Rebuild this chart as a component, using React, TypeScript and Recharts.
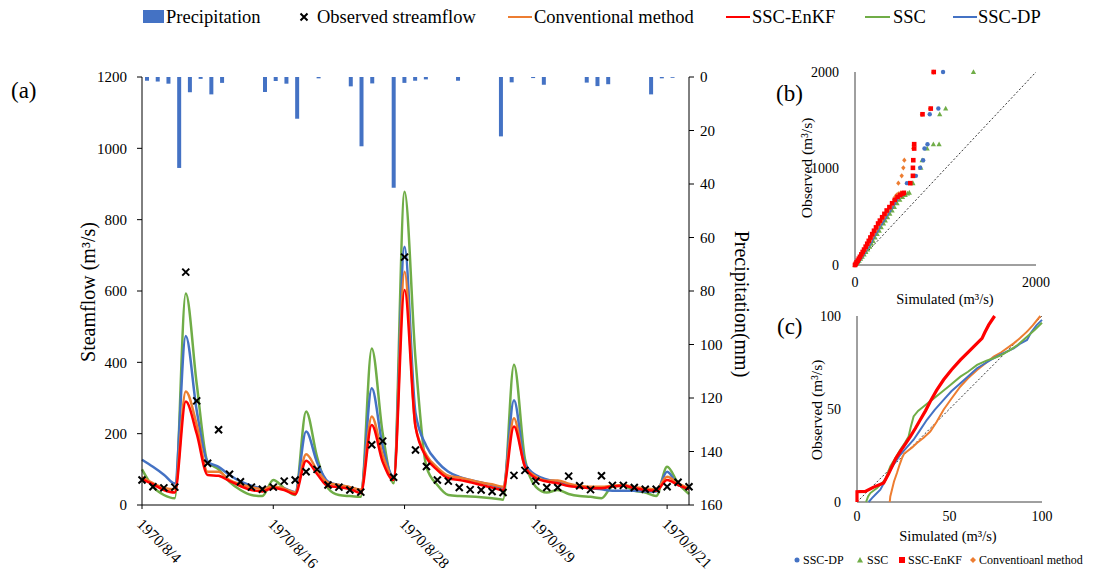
import React from 'react'
import { ComposedChart, Bar, Line, XAxis, YAxis, ScatterChart, Scatter, ReferenceLine } from 'recharts'

const FONT = "'Times New Roman', 'Liberation Serif', serif"

const BLUE = '#4472C4'
const ORANGE = '#ED7D31'
const RED = '#FF0000'
const GREEN = '#70AD47'

// daily axis, 1970/8/4 .. 1970/9/23
const dates = [
  '1970/8/4', '1970/8/5', '1970/8/6', '1970/8/7', '1970/8/8', '1970/8/9', '1970/8/10', '1970/8/11',
  '1970/8/12', '1970/8/13', '1970/8/14', '1970/8/15', '1970/8/16', '1970/8/17', '1970/8/18', '1970/8/19',
  '1970/8/20', '1970/8/21', '1970/8/22', '1970/8/23', '1970/8/24', '1970/8/25', '1970/8/26', '1970/8/27',
  '1970/8/28', '1970/8/29', '1970/8/30', '1970/8/31', '1970/9/1', '1970/9/2', '1970/9/3', '1970/9/4',
  '1970/9/5', '1970/9/6', '1970/9/7', '1970/9/8', '1970/9/9', '1970/9/10', '1970/9/11', '1970/9/12',
  '1970/9/13', '1970/9/14', '1970/9/15', '1970/9/16', '1970/9/17', '1970/9/18', '1970/9/19', '1970/9/20',
  '1970/9/21', '1970/9/22', '1970/9/23',
]
const dateTicks = [0, 12, 24, 36, 48]

const precipitation = [
  1.4, 1.7, 2.5, 34, 5.7, 0.7, 6.5, 2.2, 0, 0, 0, 5.6, 1.5, 2.5, 15.6, 0, 0.5, 0, 0, 3.5,
  25.9, 2.4, 0, 41.4, 2.2, 1.4, 0.9, 0, 0, 1.4, 0, 0, 0, 22.2, 2.0, 0, 0.4, 2.9, 0, 0,
  0, 2.1, 3.4, 2.7, 0, 0, 0, 6.5, 0.5, 0.3, 0,
]
const observed = [
  70, 51, 48, 50, 653, 292, 117, 211, 86, 65, 50, 44, 50, 67, 70, 93, 100, 56, 50, 42,
  36, 169, 179, 78, 695, 154, 108, 70, 67, 49, 43, 42, 38, 35, 83, 97, 67, 49, 49, 81,
  54, 43, 82, 55, 55, 49, 44, 44, 51, 64, 51,
]
const conventional = [
  78, 61, 48, 44, 318, 225, 93, 93, 70, 58, 50, 45, 52, 46, 35, 142, 98, 63, 56, 50,
  43, 248, 140, 75, 654, 220, 140, 105, 82, 77, 70, 63, 58, 51, 243, 108, 80, 68, 69, 60,
  54, 51, 51, 54, 56, 50, 47, 44, 79, 61, 47,
]
const sscEnkf = [
  72, 58, 42, 35, 290, 200, 84, 82, 67, 53, 42, 38, 48, 42, 30, 124, 87, 53, 50, 45,
  33, 224, 121, 70, 603, 219, 133, 98, 75, 70, 64, 56, 49, 42, 220, 108, 75, 66, 61, 53,
  50, 47, 47, 52, 54, 47, 42, 40, 70, 56, 44,
]
const ssc = [
  100, 51, 28, 19, 593, 340, 121, 100, 65, 42, 28, 25, 70, 47, 28, 262, 135, 47, 28, 25,
  23, 439, 201, 61, 878, 410, 107, 56, 28, 25, 24, 22, 19, 15, 393, 130, 51, 35, 42, 31,
  25, 23, 19, 52, 54, 40, 35, 25, 107, 61, 31,
]
const sscDp = [
  127, 107, 85, 60, 474, 265, 121, 107, 84, 66, 54, 47, 50, 46, 36, 206, 120, 66, 56, 50,
  42, 327, 164, 79, 724, 258, 165, 121, 93, 79, 70, 63, 56, 49, 294, 117, 84, 72, 65, 56,
  51, 47, 44, 40, 40, 40, 38, 38, 93, 56, 47,
]

// (b) quantile pairs [simulated, observed], m3/s
const qqDp = [
  [0, 0], [12, 12], [25, 28], [38, 45], [52, 65], [68, 85], [85, 110], [102, 135], [120, 160], [140, 190],
  [158, 220], [177, 250], [196, 285], [218, 320], [240, 355], [262, 390], [288, 430], [308, 460], [332, 495],
  [356, 530], [380, 565], [405, 600], [430, 640], [455, 675], [480, 705], [505, 725], [530, 740],
  [574, 848], [673, 924], [720, 1007], [753, 1086], [768, 1207], [801, 1252], [826, 1562], [921, 1621], [973, 2000],
]
const qqSsc = [
  [0, 0], [15, 12], [30, 28], [45, 45], [62, 65], [80, 85], [100, 110], [120, 135], [140, 160], [162, 190],
  [182, 220], [200, 250], [222, 285], [245, 320], [268, 355], [290, 390], [315, 430], [335, 460], [360, 495],
  [385, 530], [410, 565], [435, 600], [465, 640], [495, 675], [525, 705], [555, 725], [580, 740], [600, 750],
  [640, 848], [728, 1007], [742, 1086], [797, 1207], [866, 1252], [929, 1252], [936, 1562], [1002, 1621], [1309, 2000],
]
const qqEnkf = [
  [0, 0], [8, 12], [18, 28], [30, 45], [42, 65], [55, 85], [70, 110], [85, 135], [100, 160], [118, 190],
  [135, 220], [152, 250], [170, 285], [190, 320], [210, 355], [232, 390], [255, 430], [275, 460], [300, 495],
  [325, 530], [350, 565], [380, 600], [410, 640], [440, 675], [470, 705], [500, 725], [525, 740], [540, 748],
  [611, 848], [640, 924], [640, 1007], [644, 1086], [654, 1207], [654, 1252], [746, 1562], [837, 1621], [870, 2000],
]
const qqConv = [
  [0, 0], [10, 12], [22, 28], [35, 45], [48, 65], [62, 85], [78, 110], [95, 135], [112, 160], [130, 190],
  [148, 220], [166, 250], [185, 285], [205, 320], [226, 355], [248, 390], [272, 430], [292, 460], [318, 495],
  [342, 530], [366, 565], [392, 600], [415, 640], [432, 675], [445, 705], [460, 725], [480, 738], [505, 748],
  [479, 848], [516, 924], [534, 1007], [545, 1086], [644, 1207], [650, 1240], [740, 1560], [830, 1618], [866, 1998],
]

// (c) low-flow quantile curves [simulated, observed]
const lowDp = [
  [6.3, 0], [8.1, 2.1], [10, 4], [12.6, 6.6], [15, 11], [17.1, 15.6], [20, 20.5], [23.4, 25.4], [27, 29.5],
  [30.6, 33.5], [34, 38.5], [37.8, 44.2], [42, 49.5], [46.8, 54.9], [51, 59.5], [55.9, 63.9], [60, 67.5],
  [64.9, 71.9], [70, 75], [73.9, 77.3], [78, 79.5], [84.7, 82.6], [88, 85], [91.9, 87.1], [94, 91], [97, 95], [100, 97.9],
]
const lowSsc = [
  [4.9, 0], [6, 3], [7.2, 4.8], [10.8, 7.5], [15.3, 12], [18, 19.1], [21, 24], [23.4, 28.1], [26, 32],
  [27.9, 35.2], [29, 40], [30.6, 46], [33, 49], [36, 51.3], [40, 54.5], [45, 58.5], [50, 62.5], [55.9, 67.4],
  [60, 70], [64.9, 73.7], [70, 76], [73.9, 77.3], [78, 79], [82.9, 81.8], [87, 84.5], [91.9, 88.9], [96, 92.5], [100, 96.4],
]
const lowEnkf = [
  [0, 0], [0, 5.5], [4.5, 5.7], [9, 8], [14.4, 10.2], [17, 15], [18.9, 19.1], [21, 23.5], [23.4, 27.2],
  [26, 31], [28.8, 35.2], [31.5, 39.5], [34.2, 44.2], [37, 49], [39.6, 54], [43, 60], [46.8, 65.7], [51, 71],
  [55.9, 76.4], [60, 80.5], [63.1, 83.5], [67.6, 88], [69, 91], [71.2, 95.2], [74.4, 100],
]
const lowConv = [
  [17.7, 0], [18, 3], [18.9, 6.6], [20, 11], [21.6, 15.6], [23, 20], [24.3, 23.6], [25.5, 26], [27, 27.2],
  [30, 29.5], [32.4, 31.7], [36, 34.5], [39.6, 37.9], [43, 43], [46.8, 49.6], [51, 55.5], [55.9, 62.1], [60, 66.5],
  [64.9, 71], [70, 75], [73.9, 78.2], [78, 80.5], [84.7, 85.3], [88, 88], [91.9, 91.6], [95, 95], [99.1, 100],
]

const rows = dates.map((date, i) => ({
  i,
  date,
  precip: precipitation[i],
  obs: observed[i],
  conv: conventional[i],
  enkf: sscEnkf[i],
  ssc: ssc[i],
  dp: sscDp[i],
}))

const toXY = (pts: number[][]) => pts.map(([x, y]) => ({ x, y }))

const tickStyle = { fill: '#000', fontSize: 15, fontFamily: FONT }
const smallTick = { fill: '#000', fontSize: 14, fontFamily: FONT }

function Cross(p: any) {
  const { cx, cy } = p
  if (cx == null || cy == null) return <g />
  const s = 3.5
  return (
    <path
      d={`M${cx - s},${cy - s}L${cx + s},${cy + s}M${cx + s},${cy - s}L${cx - s},${cy + s}`}
      stroke="#000"
      strokeWidth={2}
    />
  )
}

function DateTick(p: any) {
  const { x, y, payload } = p
  return (
    <text
      transform={`translate(${x + 2},${y + 6}) rotate(45)`}
      fontSize={15.5}
      fontFamily={FONT}
      fill="#000"
      dominantBaseline="hanging"
    >
      {dates[payload.value]}
    </text>
  )
}

const circleShape = (color: string) => (p: any) => <circle cx={p.cx} cy={p.cy} r={2.2} fill={color} />
const triShape = (color: string) => (p: any) => (
  <path d={`M${p.cx},${p.cy - 2.8}L${p.cx + 2.6},${p.cy + 2}L${p.cx - 2.6},${p.cy + 2}Z`} fill={color} />
)
const squareShape = (color: string) => (p: any) => <rect x={p.cx - 2.3} y={p.cy - 2.3} width={4.6} height={4.6} fill={color} />
const diamondShape = (color: string) => (p: any) => (
  <path d={`M${p.cx},${p.cy - 2.6}L${p.cx + 2.2},${p.cy}L${p.cx},${p.cy + 2.6}L${p.cx - 2.2},${p.cy}Z`} fill={color} />
)
const noShape = () => <g />

function MainChart() {
  return (
    <ComposedChart width={780} height={571} data={rows} margin={{ top: 77, right: 41, bottom: 6, left: 82 }}>
      <XAxis
        xAxisId="num"
        dataKey="i"
        type="number"
        domain={[0, 50]}
        ticks={dateTicks}
        tick={<DateTick />}
        tickSize={4}
        tickMargin={2}
        height={60}
        axisLine={{ stroke: '#000' }}
        tickLine={{ stroke: '#000' }}
      />
      <XAxis
        xAxisId="band"
        dataKey="date"
        type="category"
        orientation="top"
        height={0}
        tick={false}
        tickLine={false}
        axisLine={{ stroke: '#000' }}
      />
      <YAxis
        yAxisId="flow"
        domain={[0, 1200]}
        ticks={[0, 200, 400, 600, 800, 1000, 1200]}
        width={60}
        tick={tickStyle}
        tickSize={5}
        tickMargin={10}
        axisLine={{ stroke: '#000' }}
        tickLine={{ stroke: '#000' }}
      />
      <YAxis
        yAxisId="rain"
        orientation="right"
        reversed
        domain={[0, 160]}
        ticks={[0, 20, 40, 60, 80, 100, 120, 140, 160]}
        width={50}
        tick={{ ...tickStyle, textAnchor: 'start' }}
        tickSize={5}
        tickMargin={6}
        axisLine={{ stroke: '#000' }}
        tickLine={{ stroke: '#000' }}
      />
      <Bar xAxisId="band" yAxisId="rain" dataKey="precip" fill={BLUE} barSize={4} isAnimationActive={false} />
      <Line xAxisId="num" yAxisId="flow" type="monotone" dataKey="ssc" stroke={GREEN} strokeWidth={2.5} dot={false} isAnimationActive={false} />
      <Line xAxisId="num" yAxisId="flow" type="monotone" dataKey="dp" stroke={BLUE} strokeWidth={2.5} dot={false} isAnimationActive={false} />
      <Line xAxisId="num" yAxisId="flow" type="monotone" dataKey="conv" stroke={ORANGE} strokeWidth={2.5} dot={false} isAnimationActive={false} />
      <Line xAxisId="num" yAxisId="flow" type="monotone" dataKey="enkf" stroke={RED} strokeWidth={2.5} dot={false} isAnimationActive={false} />
      <Line
        xAxisId="num"
        yAxisId="flow"
        dataKey="obs"
        stroke="none"
        dot={(p: any) => <Cross key={`o${p.index}`} {...p} />}
        activeDot={false}
        isAnimationActive={false}
      />
    </ComposedChart>
  )
}

function HighFlowChart() {
  return (
    <ScatterChart width={290} height={250} margin={{ top: 27, right: 24, bottom: 5, left: 35 }}>
      <XAxis dataKey="x" type="number" domain={[0, 2000]} ticks={[0, 2000]} tick={smallTick} tickLine={false} tickMargin={6} height={25} axisLine={{ stroke: '#404040' }} />
      <XAxis xAxisId="top" orientation="top" type="number" domain={[0, 2000]} height={0} tick={false} tickLine={false} axisLine={{ stroke: '#404040' }} />
      <YAxis dataKey="y" type="number" domain={[0, 2000]} ticks={[0, 1000, 2000]} tick={smallTick} tickLine={false} tickMargin={10} width={50} axisLine={{ stroke: '#404040' }} />
      <YAxis yAxisId="right" orientation="right" type="number" domain={[0, 2000]} width={0} tick={false} tickLine={false} axisLine={{ stroke: '#404040' }} />
      <ReferenceLine segment={[{ x: 0, y: 0 }, { x: 2000, y: 2000 }]} stroke="#000" strokeWidth={0.8} strokeDasharray="2 2" />
      <Scatter data={toXY(qqSsc)} shape={triShape(GREEN)} isAnimationActive={false} />
      <Scatter data={toXY(qqDp)} shape={circleShape(BLUE)} isAnimationActive={false} />
      <Scatter data={toXY(qqConv)} shape={diamondShape(ORANGE)} isAnimationActive={false} />
      <Scatter data={toXY(qqEnkf)} shape={squareShape(RED)} isAnimationActive={false} />
    </ScatterChart>
  )
}

function LowFlowChart() {
  return (
    <ScatterChart width={290} height={250} margin={{ top: 26, right: 18, bottom: 13, left: 37 }}>
      <XAxis dataKey="x" type="number" domain={[0, 100]} ticks={[0, 50, 100]} tick={smallTick} tickLine={false} tickMargin={3} height={25} axisLine={{ stroke: '#404040' }} />
      <XAxis xAxisId="top" orientation="top" type="number" domain={[0, 100]} height={0} tick={false} tickLine={false} axisLine={{ stroke: '#404040' }} />
      <YAxis dataKey="y" type="number" domain={[0, 100]} ticks={[0, 50, 100]} tick={smallTick} tickLine={false} tickMargin={10} width={50} axisLine={{ stroke: '#404040' }} />
      <YAxis yAxisId="right" orientation="right" type="number" domain={[0, 100]} width={0} tick={false} tickLine={false} axisLine={{ stroke: '#404040' }} />
      <ReferenceLine segment={[{ x: 0, y: 0 }, { x: 100, y: 100 }]} stroke="#000" strokeWidth={0.8} strokeDasharray="2 2" />
      <Scatter data={toXY(lowConv)} line={{ stroke: ORANGE, strokeWidth: 2 }} shape={noShape} isAnimationActive={false} />
      <Scatter data={toXY(lowDp)} line={{ stroke: BLUE, strokeWidth: 2 }} shape={noShape} isAnimationActive={false} />
      <Scatter data={toXY(lowSsc)} line={{ stroke: GREEN, strokeWidth: 2 }} shape={noShape} isAnimationActive={false} />
      <Scatter data={toXY(lowEnkf)} line={{ stroke: RED, strokeWidth: 3.2 }} shape={noShape} isAnimationActive={false} />
    </ScatterChart>
  )
}

function Overlay() {
  const t = { fontFamily: FONT, fill: '#000' }
  return (
    <svg width={1094} height={571} style={{ position: 'absolute', left: 0, top: 0, pointerEvents: 'none' }}>
      {/* top legend */}
      <rect x={143} y={10} width={21} height={13} fill={BLUE} />
      <text x={166} y={23} fontSize={18.5} {...t}>Precipitation</text>
      <Cross cx={304} cy={17} />
      <text x={317} y={23} fontSize={18.5} {...t}>Observed streamflow</text>
      <line x1={508} x2={532} y1={17} y2={17} stroke={ORANGE} strokeWidth={2} />
      <text x={534} y={23} fontSize={18.5} {...t}>Conventional method</text>
      <line x1={726} x2={750} y1={17} y2={17} stroke={RED} strokeWidth={2} />
      <text x={752} y={23} fontSize={18.5} {...t}>SSC-EnKF</text>
      <line x1={865} x2={890} y1={17} y2={17} stroke={GREEN} strokeWidth={2} />
      <text x={893} y={23} fontSize={18.5} {...t}>SSC</text>
      <line x1={953} x2={977} y1={17} y2={17} stroke={BLUE} strokeWidth={2} />
      <text x={978} y={23} fontSize={18.5} {...t}>SSC-DP</text>

      {/* panel letters */}
      <text x={11} y={98} fontSize={23} {...t}>(a)</text>
      <text x={776} y={101} fontSize={23} {...t}>(b)</text>
      <text x={777} y={334} fontSize={23} {...t}>(c)</text>

      {/* main axis titles */}
      <text transform="translate(95,292) rotate(-90)" textAnchor="middle" fontSize={20} {...t}>Steamflow (m³/s)</text>
      <text transform="translate(735,304) rotate(90)" textAnchor="middle" fontSize={20} {...t}>Precipitation(mm)</text>

      {/* (b) titles */}
      <text transform="translate(812,168) rotate(-90)" textAnchor="middle" fontSize={15.5} {...t}>Observed (m³/s)</text>
      <text x={945} y={304} textAnchor="middle" fontSize={14.5} {...t}>Simulated (m³/s)</text>

      {/* (c) titles */}
      <text transform="translate(822,410) rotate(-90)" textAnchor="middle" fontSize={15.5} {...t}>Observed (m³/s)</text>
      <text x={948} y={541} textAnchor="middle" fontSize={14.5} {...t}>Simulated (m³/s)</text>

      {/* (c) legend */}
      <circle cx={797} cy={560} r={2.5} fill={BLUE} />
      <text x={803} y={564} fontSize={12} {...t}>SSC-DP</text>
      <path d="M860,557L863,562.5L857,562.5Z" fill={GREEN} />
      <text x={867} y={564} fontSize={12} {...t}>SSC</text>
      <rect x={899} y={557} width={6} height={6} fill={RED} />
      <text x={908} y={564} fontSize={12} {...t}>SSC-EnKF</text>
      <path d="M973,557L976,560L973,563L970,560Z" fill={ORANGE} />
      <text x={979} y={564} fontSize={12} {...t}>Conventioanl method</text>
    </svg>
  )
}

export default function App() {
  return (
    <div style={{ position: 'absolute', left: 0, top: 0, width: 1094, height: 571, background: '#fff', overflow: 'hidden', fontFamily: FONT }}>
      <div style={{ position: 'absolute', left: 0, top: 0 }}>
        <MainChart />
      </div>
      <div style={{ position: 'absolute', left: 770, top: 45 }}>
        <HighFlowChart />
      </div>
      <div style={{ position: 'absolute', left: 770, top: 290 }}>
        <LowFlowChart />
      </div>
      <Overlay />
    </div>
  )
}
